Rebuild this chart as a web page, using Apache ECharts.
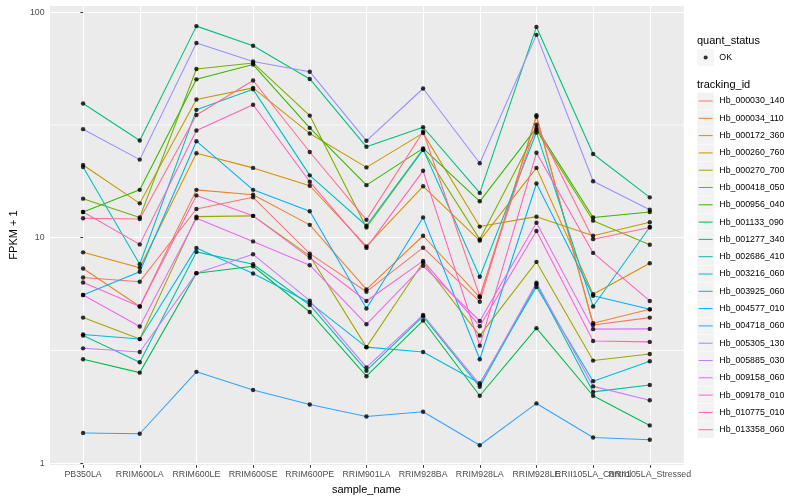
<!DOCTYPE html>
<html><head><meta charset="utf-8">
<script src="https://cdn.jsdelivr.net/npm/echarts@6.0.0/dist/echarts.min.js"></script>
<style>html,body{margin:0;padding:0;background:#fff}#c{width:800px;height:500px}</style>
</head><body><div id="c"></div>
<script>
const categories = ['PB350LA','RRIM600LA','RRIM600LE','RRIM600SE','RRIM600PE','RRIM901LA','RRIM928BA','RRIM928LA','RRIM928LE','RRII105LA_Control','RRII105LA_Stressed'];

const hb_000030_140 = [6.66, 6.38, 13.4, 15.1, 8.50, 5.76, 9.03, 5.20, 34.9, 4.10, 4.42];
const hb_000034_110 = [7.30, 4.95, 16.3, 15.5, 11.4, 5.90, 10.2, 5.44, 34.4, 4.17, 4.81];
const hb_000172_360 = [8.61, 7.35, 23.7, 20.4, 17.0, 9.15, 16.9, 9.70, 20.4, 5.61, 7.70];
const hb_000260_760 = [21.0, 14.2, 41.0, 46.2, 29.0, 20.5, 29.1, 11.2, 12.4, 10.2, 11.7];
const hb_000270_700 = [4.42, 3.55, 12.4, 12.5, 8.31, 3.27, 7.76, 3.68, 7.81, 2.85, 3.05];
const hb_000418_050 = [14.9, 12.3, 56.0, 59.6, 34.8, 11.1, 24.5, 9.83, 30.0, 11.9, 9.31];
const hb_000956_040 = [13.0, 16.3, 50.4, 58.6, 30.7, 17.1, 24.9, 14.5, 30.7, 12.3, 13.0];
const hb_001133_090 = [2.89, 2.52, 6.96, 7.47, 4.68, 2.43, 4.29, 1.99, 3.97, 1.99, 1.47];
const hb_001277_340 = [39.4, 27.0, 86.8, 71.0, 50.6, 25.3, 30.9, 15.8, 86.1, 23.5, 15.1];
const hb_002686_410 = [3.68, 2.80, 8.65, 7.62, 5.03, 2.57, 4.48, 2.18, 6.22, 2.07, 2.22];
const hb_003216_060 = [20.6, 7.62, 36.9, 45.5, 18.9, 11.3, 24.7, 6.71, 29.3, 4.95, 11.15];
const hb_003925_060 = [3.72, 3.55, 9.01, 6.94, 5.15, 3.27, 3.11, 2.26, 6.04, 2.31, 2.83];
const hb_004577_010 = [5.57, 7.06, 26.8, 16.3, 13.1, 4.85, 12.3, 2.89, 17.4, 5.53, 4.81];
const hb_004718_060 = [1.36, 1.35, 2.54, 2.11, 1.82, 1.61, 1.69, 1.20, 1.84, 1.30, 1.27];
const hb_005305_130 = [30.3, 22.2, 73.0, 60.5, 54.5, 26.9, 45.9, 21.4, 79.4, 17.8, 13.3];
const hb_005885_030 = [3.23, 3.11, 6.96, 8.44, 5.26, 2.66, 4.54, 2.23, 6.31, 2.19, 1.90];
const hb_009158_060 = [5.57, 4.04, 12.2, 9.63, 7.55, 4.13, 7.50, 4.27, 11.65, 3.93, 3.94];
const hb_009178_010 = [6.33, 4.95, 15.4, 12.5, 8.14, 5.24, 7.89, 4.05, 10.7, 3.48, 3.45];
const hb_010775_010 = [13.0, 9.34, 29.9, 38.9, 17.7, 9.01, 19.8, 3.32, 23.8, 8.56, 5.24];
const hb_013358_060 = [12.2, 12.1, 35.0, 49.8, 24.0, 12.0, 29.5, 5.50, 31.7, 9.85, 11.1];

const trackingIds = ['Hb_000030_140','Hb_000034_110','Hb_000172_360','Hb_000260_760','Hb_000270_700','Hb_000418_050','Hb_000956_040','Hb_001133_090','Hb_001277_340','Hb_002686_410','Hb_003216_060','Hb_003925_060','Hb_004577_010','Hb_004718_060','Hb_005305_130','Hb_005885_030','Hb_009158_060','Hb_009178_010','Hb_010775_010','Hb_013358_060'];
const seriesValues = [hb_000030_140, hb_000034_110, hb_000172_360, hb_000260_760, hb_000270_700, hb_000418_050, hb_000956_040, hb_001133_090, hb_001277_340, hb_002686_410, hb_003216_060, hb_003925_060, hb_004577_010, hb_004718_060, hb_005305_130, hb_005885_030, hb_009158_060, hb_009178_010, hb_010775_010, hb_013358_060];
const colors = ['#F8766D','#EA8331','#D89000','#C09B00','#A3A500','#7CAE00','#39B600','#00BB4E','#00BF7D','#00C1A3','#00BFC4','#00BAE0','#00B0F6','#35A2FF','#9590FF','#C77CFF','#E76BF3','#FA62DB','#FF62BC','#FF6C91'];
const statusName = 'OK';
const minorBreaks = [3.1623, 31.623];
const xRange = [-0.6, 10.6];

const FONT = 'Liberation Sans, Arial, Helvetica, sans-serif';
const bgIcon = 'path://M0,0M100,100M1.5,1.5L98.5,1.5L98.5,98.5L1.5,98.5Z';
const lineIcon = 'path://M0,0M100,100M10,47L90,47L90,53L10,53Z';
const dotIcon = 'path://M0,0M100,100M62,50A12,12,0,1,1,38,50A12,12,0,1,1,62,50Z';

// minor grid lines (ggplot half-decade breaks)
const minorGridSeries = minorBreaks.map((b, j) => ({
  type: 'line', name: '__minor' + j, data: xRange.map(x => [x, b]),
  showSymbol: false, symbol: 'none', silent: true, z: 1,
  lineStyle: { color: '#FFFFFF', width: 0.8 },
  emphasis: { disabled: true }
}));

const lineSeries = trackingIds.map((name, k) => ({
  type: 'line', name: name, color: colors[k],
  data: seriesValues[k].map((v, i) => [i, v]),
  showSymbol: false, symbol: 'none',
  lineStyle: { width: 1.07, color: colors[k] },
  emphasis: { disabled: true }, silent: true, z: 2
}));

const pointData = [];
seriesValues.forEach(vals => vals.forEach((v, i) => pointData.push([i, v])));

const pointSeries = {
  type: 'scatter', name: statusName, data: pointData,
  symbol: 'circle', symbolSize: 4.4, itemStyle: { color: '#000' },
  emphasis: { disabled: true }, silent: true, z: 3
};

const legendCommon = {
  orient: 'vertical', left: 697, padding: 0, itemGap: 0,
  itemWidth: 17.3, itemHeight: 17.3, selectedMode: false,
  textStyle: { fontSize: 8.8, color: '#000', fontFamily: FONT }
};

const option = {
  animation: false,
  textStyle: { fontFamily: FONT },
  title: [
    { text: 'quant_status', left: 697, top: 35, padding: 0, textStyle: { fontSize: 11, fontWeight: 'normal', color: '#000', fontFamily: FONT } },
    { text: 'tracking_id', left: 697, top: 79.5, padding: 0, textStyle: { fontSize: 11, fontWeight: 'normal', color: '#000', fontFamily: FONT } }
  ],
  legend: [
    Object.assign({}, legendCommon, { top: 48.85, z: 3,
      data: [{ name: statusName, icon: bgIcon, itemStyle: { color: '#F2F2F2', borderWidth: 0 } }],
      textStyle: { fontSize: 8.8, color: 'rgba(0,0,0,0)', fontFamily: FONT } }),
    Object.assign({}, legendCommon, { top: 48.85, z: 5,
      data: [{ name: statusName, icon: dotIcon, itemStyle: { color: '#000', borderWidth: 0 } }] }),
    Object.assign({}, legendCommon, { top: 92.35, z: 3,
      data: trackingIds.map(n => ({ name: n, icon: bgIcon, itemStyle: { color: '#F2F2F2', borderWidth: 0 } })),
      textStyle: { fontSize: 8.8, color: 'rgba(0,0,0,0)', fontFamily: FONT } }),
    Object.assign({}, legendCommon, { top: 92.35, z: 5,
      data: trackingIds.map((n, k) => ({ name: n, icon: lineIcon, itemStyle: { color: colors[k], borderWidth: 0 } })) })
  ],
  grid: { left: 39.5, right: 116.2, top: 5, bottom: 32.3, show: true, backgroundColor: '#EBEBEB', borderWidth: 0, containLabel: false },
  xAxis: {
    type: 'value', min: xRange[0], max: xRange[1], splitNumber: 11,
    name: 'sample_name', nameLocation: 'middle', nameGap: 15,
    nameTextStyle: { fontSize: 11, color: '#000', fontFamily: FONT },
    axisLine: { show: false },
    axisTick: { show: true, length: 2.7, lineStyle: { color: '#333333', width: 1 } },
    axisLabel: {
      show: true, fontSize: 8.8, color: '#4D4D4D', margin: 5, fontFamily: FONT,
      showMinLabel: false, showMaxLabel: false, hideOverlap: false,
      formatter: v => { const r = Math.round(v); return Math.abs(v - r) < 1e-6 && categories[r] ? categories[r] : ''; }
    },
    splitLine: { show: true, lineStyle: { color: '#FFFFFF', width: 1.07 } }
  },
  yAxis: {
    type: 'log', logBase: 10, min: 0.98, max: 107.7,
    name: 'FPKM + 1', nameLocation: 'middle', nameGap: 22,
    nameTextStyle: { fontSize: 11, color: '#000', fontFamily: FONT },
    axisLine: { show: false },
    axisTick: { show: true, length: 2.7, lineStyle: { color: '#333333', width: 1 } },
    axisLabel: { show: true, fontSize: 8.8, color: '#4D4D4D', margin: 4.5, fontFamily: FONT, showMinLabel: false, showMaxLabel: false },
    splitLine: { show: true, lineStyle: { color: '#FFFFFF', width: 1.07 } },
    minorSplitLine: { show: false }
  },
  series: minorGridSeries.concat(lineSeries, [pointSeries])
};

const chart = echarts.init(document.getElementById('c'), null, { renderer: 'canvas' });
chart.setOption(option);
</script>
</body></html>
